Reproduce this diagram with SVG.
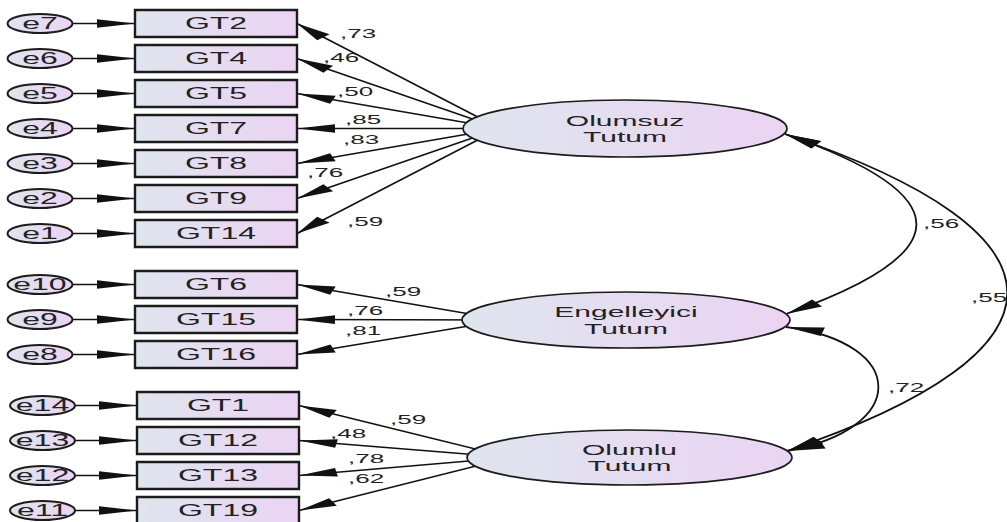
<svg xmlns="http://www.w3.org/2000/svg" width="1007" height="522" viewBox="0 0 1007 522">
<defs>
<linearGradient id="fillg" x1="0" y1="0" x2="1" y2="0">
<stop offset="0" stop-color="#dfe5ee"/>
<stop offset="1" stop-color="#ebd4f3"/>
</linearGradient>
<marker id="ah" markerUnits="userSpaceOnUse" viewBox="0 -5 20 10" markerWidth="20" markerHeight="10" refX="19" refY="0" orient="auto-start-reverse" overflow="visible">
<path d="M0,-4.3 L19,0 L0,4.3 z" fill="#111"/>
</marker>
<style>
.obs{fill:url(#fillg);stroke:#1c1c1c;stroke-width:2.4}
.err{fill:url(#fillg);stroke:#1c1c1c;stroke-width:2}
.lat{fill:url(#fillg);stroke:#1c1c1c;stroke-width:1.7}
.ln{fill:none;stroke:#111;stroke-width:1.6;marker-end:url(#ah)}
.cv{fill:none;stroke:#111;stroke-width:1.8;marker-start:url(#ah);marker-end:url(#ah)}
.t{font-family:"Liberation Sans",Arial,sans-serif;font-size:16px;fill:#222;text-anchor:middle}
.l{font-family:"Liberation Sans",Arial,sans-serif;font-size:15px;fill:#222;text-anchor:middle}
.c{font-family:"Liberation Sans",Arial,sans-serif;font-size:13px;fill:#222}
</style>
</defs>
<rect width="1007" height="522" fill="#ffffff"/>
<g transform="scale(2,1)">
<g id="connectors">
<line class="ln" vector-effect="non-scaling-stroke" x1="36.25" y1="23.5" x2="67.5" y2="23.5"/>
<line class="ln" vector-effect="non-scaling-stroke" x1="36.25" y1="58.5" x2="67.5" y2="58.5"/>
<line class="ln" vector-effect="non-scaling-stroke" x1="36.25" y1="93.5" x2="67.5" y2="93.5"/>
<line class="ln" vector-effect="non-scaling-stroke" x1="36.25" y1="128.5" x2="67.5" y2="128.5"/>
<line class="ln" vector-effect="non-scaling-stroke" x1="36.25" y1="163.5" x2="67.5" y2="163.5"/>
<line class="ln" vector-effect="non-scaling-stroke" x1="36.25" y1="198.5" x2="67.5" y2="198.5"/>
<line class="ln" vector-effect="non-scaling-stroke" x1="36.25" y1="233.5" x2="67.5" y2="233.5"/>
<line class="ln" vector-effect="non-scaling-stroke" x1="36.25" y1="284.5" x2="67.5" y2="284.5"/>
<line class="ln" vector-effect="non-scaling-stroke" x1="36.25" y1="319.5" x2="67.5" y2="319.5"/>
<line class="ln" vector-effect="non-scaling-stroke" x1="36.25" y1="354.5" x2="67.5" y2="354.5"/>
<line class="ln" vector-effect="non-scaling-stroke" x1="37.5" y1="405.5" x2="68.5" y2="405.5"/>
<line class="ln" vector-effect="non-scaling-stroke" x1="37.5" y1="440.5" x2="68.5" y2="440.5"/>
<line class="ln" vector-effect="non-scaling-stroke" x1="37.5" y1="475.5" x2="68.5" y2="475.5"/>
<line class="ln" vector-effect="non-scaling-stroke" x1="37.5" y1="510.5" x2="68.5" y2="510.5"/>
<line class="ln" vector-effect="non-scaling-stroke" x1="250" y1="128.5" x2="148.5" y2="23.5"/>
<line class="ln" vector-effect="non-scaling-stroke" x1="250" y1="128.5" x2="148.5" y2="58.5"/>
<line class="ln" vector-effect="non-scaling-stroke" x1="250" y1="128.5" x2="148.5" y2="93.5"/>
<line class="ln" vector-effect="non-scaling-stroke" x1="250" y1="128.5" x2="148.5" y2="128.5"/>
<line class="ln" vector-effect="non-scaling-stroke" x1="250" y1="128.5" x2="148.5" y2="163.5"/>
<line class="ln" vector-effect="non-scaling-stroke" x1="250" y1="128.5" x2="148.5" y2="198.5"/>
<line class="ln" vector-effect="non-scaling-stroke" x1="250" y1="128.5" x2="148.5" y2="233.5"/>
<line class="ln" vector-effect="non-scaling-stroke" x1="252.5" y1="320" x2="148.5" y2="284.5"/>
<line class="ln" vector-effect="non-scaling-stroke" x1="252.5" y1="320" x2="148.5" y2="319.5"/>
<line class="ln" vector-effect="non-scaling-stroke" x1="252.5" y1="320" x2="148.5" y2="354.5"/>
<line class="ln" vector-effect="non-scaling-stroke" x1="255" y1="457.5" x2="149.5" y2="405.5"/>
<line class="ln" vector-effect="non-scaling-stroke" x1="255" y1="457.5" x2="149.5" y2="440.5"/>
<line class="ln" vector-effect="non-scaling-stroke" x1="255" y1="457.5" x2="149.5" y2="475.5"/>
<line class="ln" vector-effect="non-scaling-stroke" x1="255" y1="457.5" x2="149.5" y2="510.5"/>
<path class="cv" vector-effect="non-scaling-stroke" d="M392.5,134 C480,195 480,253 393,314"/>
<path class="cv" vector-effect="non-scaling-stroke" d="M392.5,134 C540.5,234 540.5,351 393.5,451"/>
<path class="cv" vector-effect="non-scaling-stroke" d="M393,327 C454.5,343 454.5,429 393.5,451"/>
<text class="c" x="170" y="38">,73</text>
<text class="c" x="161.5" y="62">,46</text>
<text class="c" x="168.5" y="96">,50</text>
<text class="c" x="172.5" y="124">,85</text>
<text class="c" x="171.5" y="144">,83</text>
<text class="c" x="153.5" y="177">,76</text>
<text class="c" x="173.5" y="226">,59</text>
<text class="c" x="192.5" y="296">,59</text>
<text class="c" x="173.5" y="315">,76</text>
<text class="c" x="172.5" y="335">,81</text>
<text class="c" x="195" y="424">,59</text>
<text class="c" x="165" y="438">,48</text>
<text class="c" x="174" y="463">,78</text>
<text class="c" x="174" y="483">,62</text>
<text class="c" x="461.5" y="228">,56</text>
<text class="c" x="485.5" y="302">,55</text>
<text class="c" x="444" y="392">,72</text>
</g>
<g id="e7"><ellipse class="err" vector-effect="non-scaling-stroke" cx="20" cy="23.5" rx="16.25" ry="9.5"/><text class="t" x="20" y="29.5">e7</text></g>
<g id="e6"><ellipse class="err" vector-effect="non-scaling-stroke" cx="20" cy="58.5" rx="16.25" ry="9.5"/><text class="t" x="20" y="64.5">e6</text></g>
<g id="e5"><ellipse class="err" vector-effect="non-scaling-stroke" cx="20" cy="93.5" rx="16.25" ry="9.5"/><text class="t" x="20" y="99.5">e5</text></g>
<g id="e4"><ellipse class="err" vector-effect="non-scaling-stroke" cx="20" cy="128.5" rx="16.25" ry="9.5"/><text class="t" x="20" y="134.5">e4</text></g>
<g id="e3"><ellipse class="err" vector-effect="non-scaling-stroke" cx="20" cy="163.5" rx="16.25" ry="9.5"/><text class="t" x="20" y="169.5">e3</text></g>
<g id="e2"><ellipse class="err" vector-effect="non-scaling-stroke" cx="20" cy="198.5" rx="16.25" ry="9.5"/><text class="t" x="20" y="204.5">e2</text></g>
<g id="e1"><ellipse class="err" vector-effect="non-scaling-stroke" cx="20" cy="233.5" rx="16.25" ry="9.5"/><text class="t" x="20" y="239.5">e1</text></g>
<g id="e10"><ellipse class="err" vector-effect="non-scaling-stroke" cx="20" cy="284.5" rx="16.25" ry="9.5"/><text class="t" x="20" y="290.5">e10</text></g>
<g id="e9"><ellipse class="err" vector-effect="non-scaling-stroke" cx="20" cy="319.5" rx="16.25" ry="9.5"/><text class="t" x="20" y="325.5">e9</text></g>
<g id="e8"><ellipse class="err" vector-effect="non-scaling-stroke" cx="20" cy="354.5" rx="16.25" ry="9.5"/><text class="t" x="20" y="360.5">e8</text></g>
<g id="e14"><ellipse class="err" vector-effect="non-scaling-stroke" cx="21.25" cy="405.5" rx="16.25" ry="9.5"/><text class="t" x="21.25" y="411.5">e14</text></g>
<g id="e13"><ellipse class="err" vector-effect="non-scaling-stroke" cx="21.25" cy="440.5" rx="16.25" ry="9.5"/><text class="t" x="21.25" y="446.5">e13</text></g>
<g id="e12"><ellipse class="err" vector-effect="non-scaling-stroke" cx="21.25" cy="475.5" rx="16.25" ry="9.5"/><text class="t" x="21.25" y="481.5">e12</text></g>
<g id="e11"><ellipse class="err" vector-effect="non-scaling-stroke" cx="21.25" cy="510.5" rx="16.25" ry="9.5"/><text class="t" x="21.25" y="516.5">e11</text></g>
<g id="GT2"><rect class="obs" vector-effect="non-scaling-stroke" x="67.5" y="10" width="81" height="27"/><text class="t" x="108" y="29.5">GT2</text></g>
<g id="GT4"><rect class="obs" vector-effect="non-scaling-stroke" x="67.5" y="45" width="81" height="27"/><text class="t" x="108" y="64.5">GT4</text></g>
<g id="GT5"><rect class="obs" vector-effect="non-scaling-stroke" x="67.5" y="80" width="81" height="27"/><text class="t" x="108" y="99.5">GT5</text></g>
<g id="GT7"><rect class="obs" vector-effect="non-scaling-stroke" x="67.5" y="115" width="81" height="27"/><text class="t" x="108" y="134.5">GT7</text></g>
<g id="GT8"><rect class="obs" vector-effect="non-scaling-stroke" x="67.5" y="150" width="81" height="27"/><text class="t" x="108" y="169.5">GT8</text></g>
<g id="GT9"><rect class="obs" vector-effect="non-scaling-stroke" x="67.5" y="185" width="81" height="27"/><text class="t" x="108" y="204.5">GT9</text></g>
<g id="GT14"><rect class="obs" vector-effect="non-scaling-stroke" x="67.5" y="220" width="81" height="27"/><text class="t" x="108" y="239.5">GT14</text></g>
<g id="GT6"><rect class="obs" vector-effect="non-scaling-stroke" x="67.5" y="271" width="81" height="27"/><text class="t" x="108" y="290.5">GT6</text></g>
<g id="GT15"><rect class="obs" vector-effect="non-scaling-stroke" x="67.5" y="306" width="81" height="27"/><text class="t" x="108" y="325.5">GT15</text></g>
<g id="GT16"><rect class="obs" vector-effect="non-scaling-stroke" x="67.5" y="341" width="81" height="27"/><text class="t" x="108" y="360.5">GT16</text></g>
<g id="GT1"><rect class="obs" vector-effect="non-scaling-stroke" x="68.5" y="392" width="81" height="27"/><text class="t" x="109" y="411.5">GT1</text></g>
<g id="GT12"><rect class="obs" vector-effect="non-scaling-stroke" x="68.5" y="427" width="81" height="27"/><text class="t" x="109" y="446.5">GT12</text></g>
<g id="GT13"><rect class="obs" vector-effect="non-scaling-stroke" x="68.5" y="462" width="81" height="27"/><text class="t" x="109" y="481.5">GT13</text></g>
<g id="GT19"><rect class="obs" vector-effect="non-scaling-stroke" x="68.5" y="497" width="81" height="27"/><text class="t" x="109" y="516.5">GT19</text></g>
<g id="OlumsuzTutum"><ellipse class="lat" vector-effect="non-scaling-stroke" cx="312.5" cy="128.5" rx="81" ry="28.5"/><text class="l" x="312.5" y="126">Olumsuz</text><text class="l" x="312.5" y="142.5">Tutum</text></g>
<g id="EngelleyiciTutum"><ellipse class="lat" vector-effect="non-scaling-stroke" cx="313" cy="320" rx="82" ry="28"/><text class="l" x="313" y="317.5">Engelleyici</text><text class="l" x="313" y="334">Tutum</text></g>
<g id="OlumluTutum"><ellipse class="lat" vector-effect="non-scaling-stroke" cx="314.75" cy="457.5" rx="81.25" ry="27.5"/><text class="l" x="314.75" y="455">Olumlu</text><text class="l" x="314.75" y="471.5">Tutum</text></g>
</g>
</svg>
